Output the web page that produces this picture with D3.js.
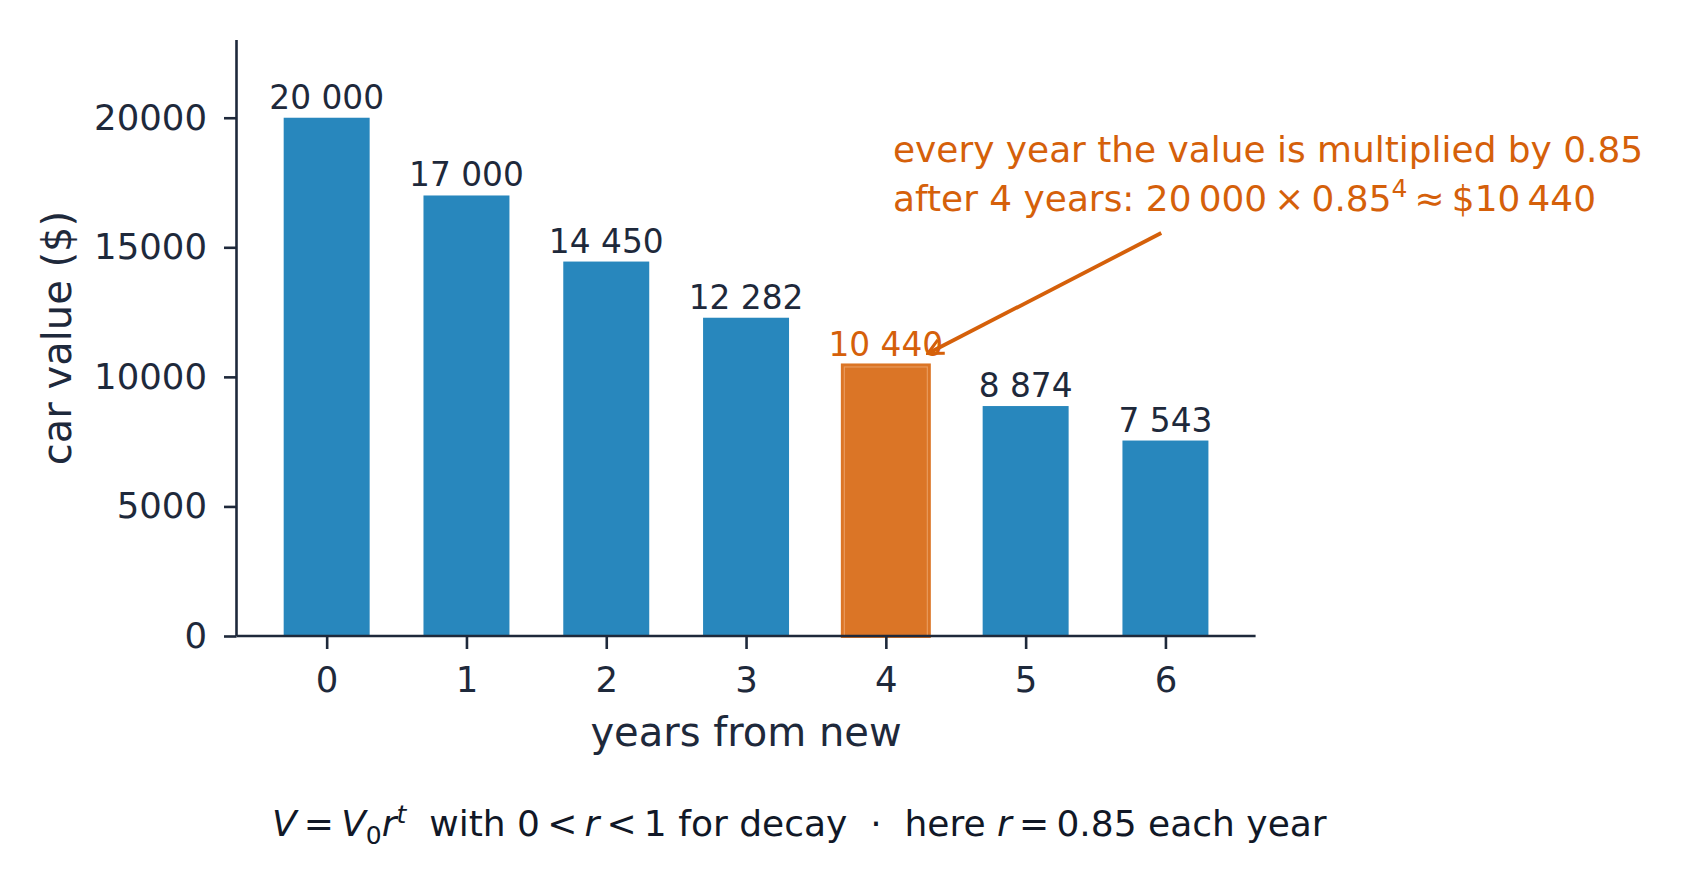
<!DOCTYPE html>
<html>
<head>
<meta charset="utf-8">
<script src="https://cdn.jsdelivr.net/npm/d3@7/dist/d3.min.js"></script>
<style>
  body { margin: 0; background: #fff; }
  svg { display: block; font-family: "DejaVu Sans", sans-serif; }
</style>
</head>
<body>
<svg id="chart"></svg>
<script>
// chart data
const years = [0, 1, 2, 3, 4, 5, 6];
const values = [20000, 17000, 14450, 12282, 10440, 8874, 7543];
const valueLabels = ["20 000", "17 000", "14 450", "12 282", "10 440", "8 874", "7 543"];
const yTicks = [0, 5000, 10000, 15000, 20000];
const highlightYear = 4;
// arrow from text to the highlighted bar, in data units [year, value]
const arrowFrom = [5.97, 15550];
const arrowTo = [4.3, 10900];

const W = 1686, H = 885;
const dark = "#1e293b";
const blue = "#2887bd";
const orange = "#db7526";
const annot = "#d5600a";

const svg = d3.select("#chart").attr("width", W).attr("height", H);

const x = d3.scaleLinear().domain([-0.645, 6.645]).range([236.5, 1255.6]);
const y = d3.scaleLinear().domain([0, 23000]).range([636, 40]);
const barW = 0.615;

// bars
svg.append("g")
  .selectAll("rect")
  .data(years)
  .join("rect")
  .attr("x", d => x(d - barW / 2))
  .attr("y", (d, i) => y(values[i]))
  .attr("width", x(barW) - x(0))
  .attr("height", (d, i) => y(0) - y(values[i]))
  .attr("fill", d => d === highlightYear ? orange : blue)
  .attr("stroke", d => d === highlightYear ? orange : "none")
  .attr("stroke-width", 4);

// light inner edge on highlighted bar
const hi = years.indexOf(highlightYear);
svg.append("rect")
  .attr("x", x(highlightYear - barW / 2) + 1.5)
  .attr("y", y(values[hi]) + 1.5)
  .attr("width", x(barW) - x(0) - 3)
  .attr("height", y(0) - y(values[hi]) - 1.5)
  .attr("fill", "none")
  .attr("stroke", "#e99a5c")
  .attr("stroke-width", 1.2);

// value labels
svg.append("g")
  .selectAll("text")
  .data(years)
  .join("text")
  .attr("x", d => x(d))
  .attr("y", (d, i) => y(values[i]) - 9)
  .attr("text-anchor", "middle")
  .attr("font-size", 32.8)
  .attr("fill", d => d === highlightYear ? annot : dark)
  .text((d, i) => valueLabels[i]);

// axes
const yAxis = svg.append("g")
  .attr("transform", `translate(${x(-0.645)},0)`)
  .call(d3.axisLeft(y).tickValues(yTicks).tickFormat(d3.format("d"))
    .tickSize(12.5).tickSizeOuter(0).tickPadding(17));

const xAxis = svg.append("g")
  .attr("transform", `translate(0,${y(0)})`)
  .call(d3.axisBottom(x).tickValues(years).tickFormat(d3.format("d"))
    .tickSize(13).tickSizeOuter(0).tickPadding(18));

[yAxis, xAxis].forEach(g => {
  g.selectAll("path, line").attr("stroke", dark).attr("stroke-width", 2.6);
  g.selectAll("text").attr("fill", dark).attr("font-size", 35.5)
    .attr("font-family", "DejaVu Sans");
});
xAxis.select(".domain").attr("d", `M${x(-0.645)},0H${x(6.645)}`);
yAxis.select(".domain").attr("d", `M0,${y(0)}V${y(23000)}`);

// axis titles
svg.append("text")
  .attr("x", (x(-0.645) + x(6.645)) / 2)
  .attr("y", 746)
  .attr("text-anchor", "middle")
  .attr("font-size", 40)
  .attr("fill", dark)
  .text("years from new");

svg.append("text")
  .attr("transform", `translate(71,${(y(0) + y(23000)) / 2}) rotate(-90)`)
  .attr("text-anchor", "middle")
  .attr("font-size", 40)
  .attr("fill", dark)
  .text("car value ($)");

// annotation
const note = svg.append("g").attr("fill", annot).attr("font-size", 35.9);
note.append("text").attr("x", 893).attr("y", 162)
  .text("every year the value is multiplied by 0.85");
const l2 = note.append("text").attr("x", 893).attr("y", 211);
l2.append("tspan").text("after 4 years: 20\u2009000\u2009×\u20090.85");
l2.append("tspan").attr("dy", -14).attr("font-size", 25).text("4");
l2.append("tspan").attr("dy", 14).text("\u2009≈\u2009$10\u2009440");

svg.append("defs").append("marker")
  .attr("id", "head")
  .attr("viewBox", "0 0 10 10")
  .attr("refX", 9).attr("refY", 5)
  .attr("markerWidth", 5).attr("markerHeight", 5)
  .attr("orient", "auto")
  .append("path")
  .attr("d", "M1,1L9,5L1,9")
  .attr("fill", "none")
  .attr("stroke", annot)
  .attr("stroke-width", 1.6);

svg.append("line")
  .attr("x1", x(arrowFrom[0])).attr("y1", y(arrowFrom[1]))
  .attr("x2", x(arrowTo[0])).attr("y2", y(arrowTo[1]))
  .attr("stroke", annot)
  .attr("stroke-width", 3.8)
  .attr("marker-end", "url(#head)");

// caption with formula
const cap = svg.append("text")
  .attr("x", 272).attr("y", 836)
  .attr("font-size", 36)
  .attr("fill", "#111827");
const it = s => cap.append("tspan").attr("font-style", "italic").text(s);
const rm = s => cap.append("tspan").text(s);
it("V"); rm("\u2009=\u2009"); it("V");
cap.append("tspan").attr("dy", 8).attr("font-size", 25).text("0");
cap.append("tspan").attr("dy", -8).attr("font-style", "italic").text("r");
cap.append("tspan").attr("dy", -13).attr("font-size", 25).attr("font-style", "italic").text("t");
cap.append("tspan").attr("dy", 13).text("\u00a0\u00a0with 0\u2009<\u2009");
it("r"); rm("\u2009<\u20091 for decay \u00a0·\u00a0 here "); it("r");
rm("\u2009=\u20090.85 each year");
</script>
</body>
</html>
